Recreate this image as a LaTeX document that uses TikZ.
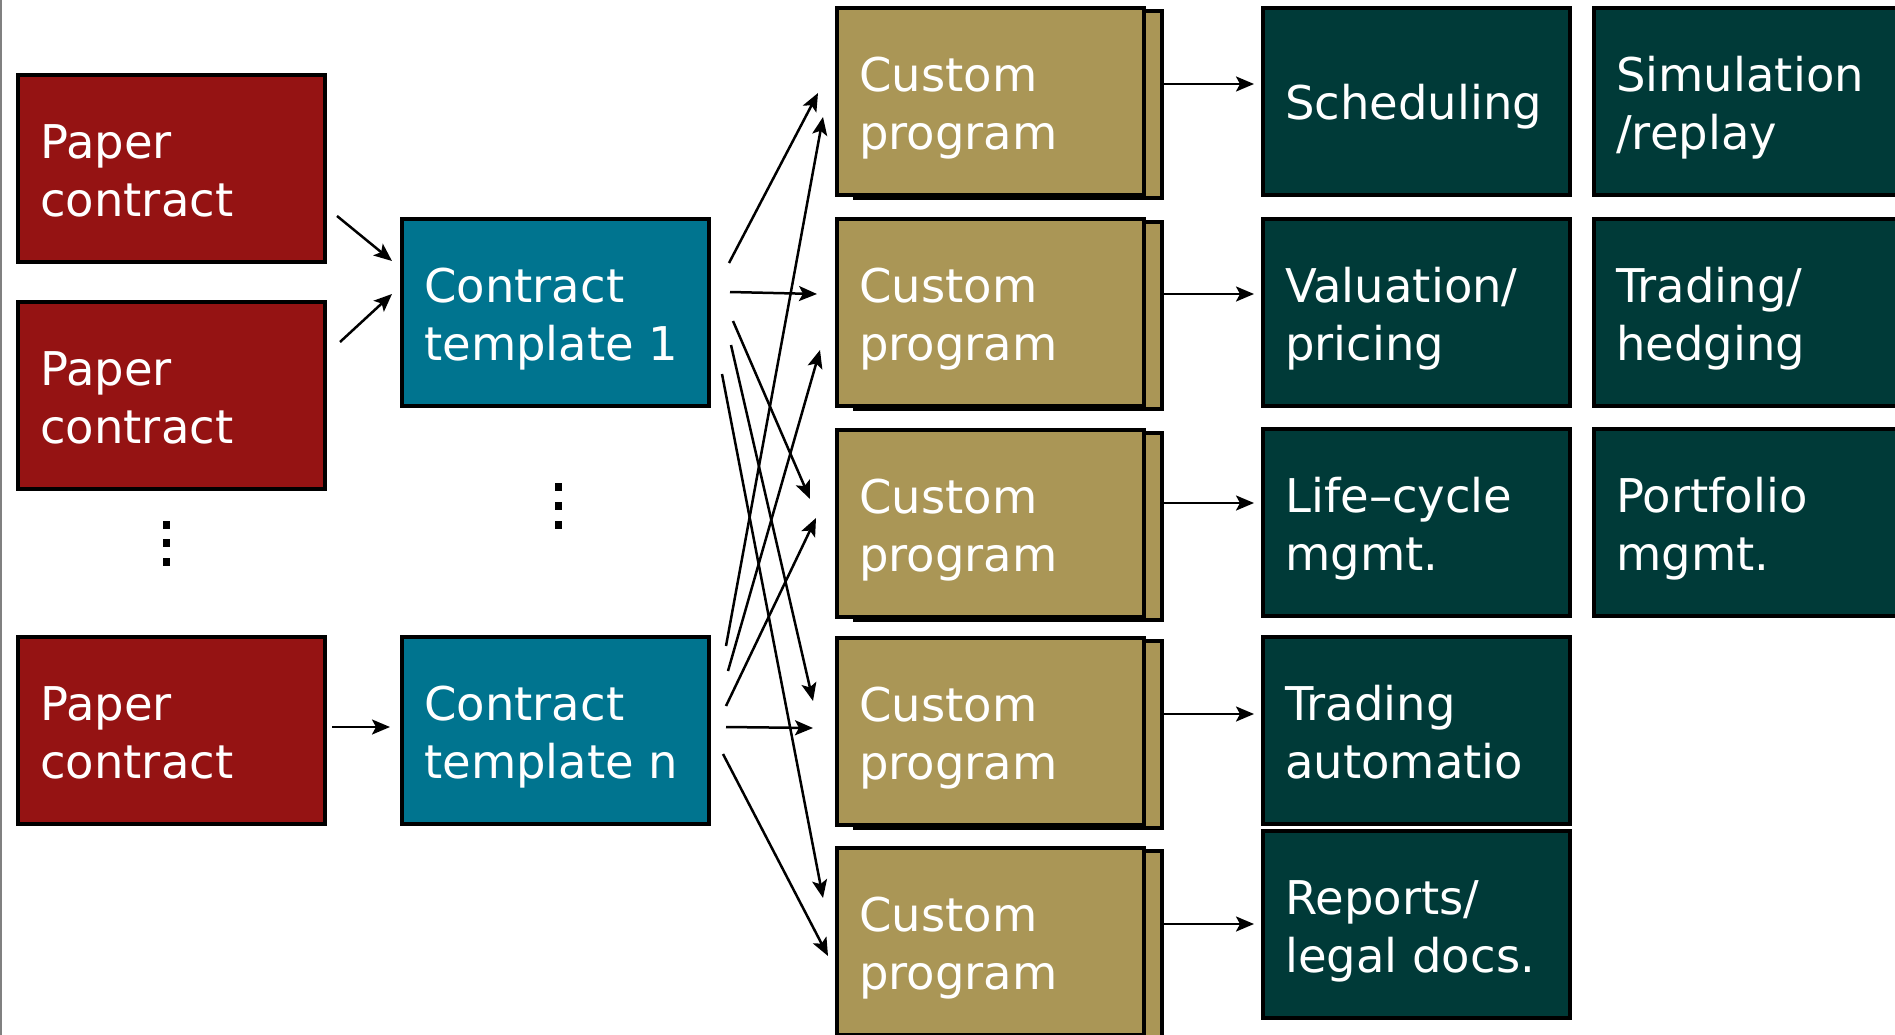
\documentclass[tikz,border=0pt]{standalone}
\usepackage{fontspec}
\usetikzlibrary{arrows.meta,calc}
\newfontfamily\boxfont{DejaVu Sans}
\newcommand\boxtextfont{\boxfont\fontsize{46.5}{58}\selectfont}
\definecolor{paperred}{RGB}{149,19,19}
\definecolor{tmplteal}{RGB}{0,116,143}
\definecolor{proggold}{RGB}{170,150,86}
\definecolor{usegreen}{RGB}{0,58,56}
\definecolor{edgegray}{RGB}{128,128,128}
\tikzset{
  box/.style={rectangle, draw=black, line width=3.2pt, minimum width=307pt,
    minimum height=187pt, inner sep=0pt, outer sep=0pt, anchor=north west},
  paper/.style={box, fill=paperred},
  tmpl/.style={box, fill=tmplteal},
  prog/.style={box, fill=proggold},
  use/.style={box, fill=usegreen},
  % the base anchor of a two-line label sits on its second line
  txt/.style={anchor=base west, align=left, inner sep=0pt, text=white, font=\boxtextfont},
  arr/.style={line width=2.5pt, -{Stealth[length=18pt,width=15pt,inset=4pt]}},
  vdot/.style={rectangle, fill=black, minimum width=7pt, minimum height=8pt, inner sep=0pt}
}
\begin{document}
\begin{tikzpicture}[x=1pt,y=-1pt]
\useasboundingbox (0,0) rectangle (1895,1035);
\clip (0,0) rectangle (1895,1035);
\fill[white] (0,0) rectangle (1895,1035);
\draw[edgegray, line width=2pt] (1,0) -- (1,1035);

% paper contracts
\node[paper] (p1) at (18,75) {};
\node[paper] (p2) at (18,302) {};
\node[paper] (p3) at (18,637) {};
\node[txt] (p1t) at ($(p1.north west)+(22,141.5)$) {Paper\\contract};
\node[txt] (p2t) at ($(p2.north west)+(22,141.5)$) {Paper\\contract};
\node[txt] (p3t) at ($(p3.north west)+(22,141.5)$) {Paper\\contract};
\node[vdot] (pd1) at (166,525) {};
\node[vdot] (pd2) at (166,543) {};
\node[vdot] (pd3) at (166,562) {};

% contract templates
\node[tmpl] (t1) at (402,219) {};
\node[tmpl] (tn) at (402,637) {};
\node[txt] (t1t) at ($(t1.north west)+(22,141.5)$) {Contract\\template 1};
\node[txt] (tnt) at ($(tn.north west)+(22,141.5)$) {Contract\\template n};
\node[vdot] (td1) at (558,487) {};
\node[vdot] (td2) at (558,506) {};
\node[vdot] (td3) at (558,525) {};

% custom programs, each with a stacked copy behind it
\foreach \i/\y in {1/8,2/219,3/430,4/638,5/848}{
  \node[prog] (cp\i s) at (855,\y+3) {};
  \node[prog] (cp\i) at (837,\y) {};
  \node[txt] (cp\i t) at ($(cp\i.north west)+(22,141.5)$) {Custom\\program};
}

% uses of the programs
\node[use] (sch) at (1263,8) {};
\node[use] (val) at (1263,219) {};
\node[use] (lcm) at (1263,429) {};
\node[use] (tra) at (1263,637) {};
\node[use] (rep) at (1263,831) {};
\node[use] (sim) at (1594,8) {};
\node[use] (trh) at (1594,219) {};
\node[use] (pfm) at (1594,429) {};
\node[txt] (scht) at ($(sch.north west)+(22,112)$) {Scheduling};
\node[txt] (valt) at ($(val.north west)+(22,141.5)$) {Valuation/\\pricing};
\node[txt] (lcmt) at ($(lcm.north west)+(22,141.5)$) {Life–cycle\\mgmt.};
\node[txt] (trat) at ($(tra.north west)+(22,141.5)$) {Trading\\automatio};
\node[txt] (rept) at ($(rep.north west)+(22,141.5)$) {Reports/\\legal docs.};
\node[txt] (simt) at ($(sim.north west)+(22,141.5)$) {Simulation\\/replay};
\node[txt] (trht) at ($(trh.north west)+(22,141.5)$) {Trading/\\hedging};
\node[txt] (pfmt) at ($(pfm.north west)+(22,141.5)$) {Portfolio\\mgmt.};

% paper contracts to templates
\draw[arr] ($(p1.north east)+(12,141)$) -- ($(t1.north west)+(-10,42)$);
\draw[arr] ($(p2.north east)+(15,40)$) -- ($(t1.north west)+(-10,75)$);
\draw[arr] ($(p3.north east)+(7,90)$) -- ($(tn.north west)+(-12,90)$);

% templates to custom programs
\draw[arr] ($(t1.north east)+(20,44)$)  -- ($(cp1.north west)+(-19,85)$);
\draw[arr] ($(tn.north east)+(17,9)$)   -- ($(cp1.north west)+(-14,109)$);
\draw[arr] ($(t1.north east)+(21,73)$)  -- ($(cp2.north west)+(-20,75)$);
\draw[arr] ($(tn.north east)+(19,34)$)  -- ($(cp2.north west)+(-17,131)$);
\draw[arr] ($(t1.north east)+(24,102)$) -- ($(cp3.north west)+(-27,69)$);
\draw[arr] ($(tn.north east)+(17,69)$)  -- ($(cp3.north west)+(-21,88)$);
\draw[arr] ($(t1.north east)+(22,126)$) -- ($(cp4.north west)+(-24,63)$);
\draw[arr] ($(tn.north east)+(17,90)$)  -- ($(cp4.north west)+(-24,90)$);
\draw[arr] ($(t1.north east)+(13,155)$) -- ($(cp5.north west)+(-14,50)$);
\draw[arr] ($(tn.north east)+(14,117)$) -- ($(cp5.north west)+(-9,108)$);

% custom programs to their uses
\foreach \i/\u/\d in {1/sch/73,2/val/72,3/lcm/70,4/tra/73,5/rep/73}{
  \coordinate (o\i) at ($(cp\i s.north east)+(0,\d)$);
  \draw[arr] (o\i) -- ($(o\i -| \u.west)+(-9,0)$);
}
\end{tikzpicture}
\end{document}
